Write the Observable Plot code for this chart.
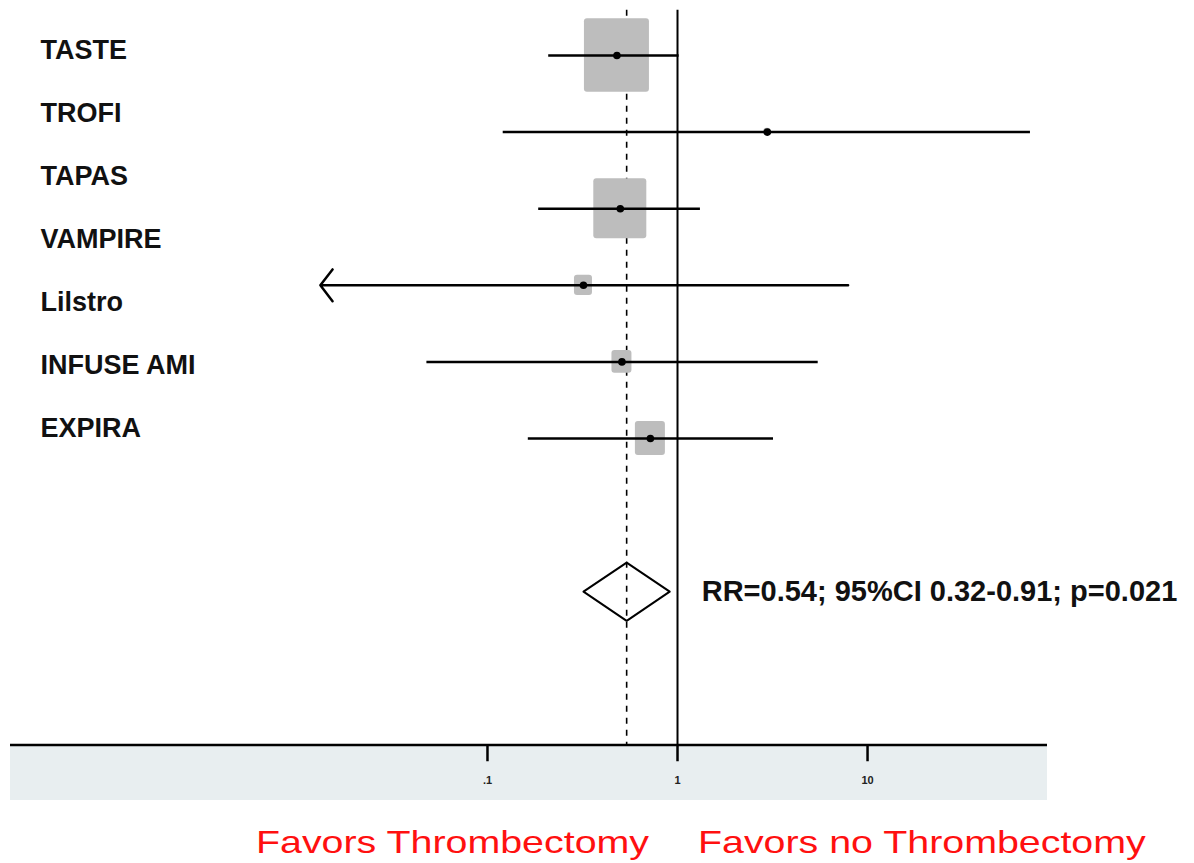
<!DOCTYPE html>
<html>
<head>
<meta charset="utf-8">
<script src="https://cdn.jsdelivr.net/npm/d3@7"></script>
<script src="https://cdn.jsdelivr.net/npm/@observablehq/plot@0.6"></script>
<style>
  html, body { margin: 0; padding: 0; background: #fff; }
  #wrap { position: relative; width: 1194px; height: 863px; font-family: "Liberation Sans", Arial, sans-serif; }
  .favor { position: absolute; top: 826px; font-size: 32px; line-height: 32px; color: #ff1010; white-space: nowrap; transform: scaleX(1.23); transform-origin: left top; }
</style>
</head>
<body>
<div id="wrap"></div>
<script>
// ---- data ----
const labels = ["TASTE", "TROFI", "TAPAS", "VAMPIRE", "Lilstro", "INFUSE AMI", "EXPIRA"];
const rowStudies = ["TASTE", "TROFI", "TAPAS", "Lilstro", "INFUSE AMI", "EXPIRA"];
const rr = [0.48, 2.97, 0.50, 0.32, 0.51, 0.72];
const lower = [0.21, 0.121, 0.186, 0.0132, 0.048, 0.164];
const upper = [1.02, 72, 1.32, 7.9, 5.5, 3.2];
const weight = [65, 7, 53, 18, 20, 30];
const truncatedLow = [false, false, false, true, false, false];
const pooled = {rr: 0.54, lower: 0.32, upper: 0.91};
const pooledText = "RR=0.54; 95%CI 0.32-0.91; p=0.021";
const tickValues = [0.1, 1, 10];
const tickLabels = [".1", "1", "10"];
const favorLeft = "Favors Thrombectomy";
const favorRight = "Favors no Thrombectomy";

// ---- build table ----
const rows = rowStudies.map((s, i) => ({
  study: s, row: i + 1, rr: rr[i], lower: lower[i], upper: upper[i], w: weight[i], trunc: truncatedLow[i]
}));
const pooledRow = rows.length + 2;
const axisRow = rows.length + 4;

const xmin = 10 ** -3.51, xmax = 10 ** 1.947;
const rowPx = 76.6;
const H = 805;
const yTop = 1 - 55 / rowPx, yBot = 1 + (H - 55) / rowPx;
const bandBottom = 1 + 745 / rowPx;
const decadePx = 190;

const diamond = [
  {x: pooled.lower, y: pooledRow},
  {x: pooled.rr, y: pooledRow - 0.38},
  {x: pooled.upper, y: pooledRow},
  {x: pooled.rr, y: pooledRow + 0.38},
  {x: pooled.lower, y: pooledRow}
];

const font = "Liberation Sans, Arial, sans-serif";

const chart = Plot.plot({
  width: 1194,
  height: H,
  marginLeft: 10,
  marginRight: 147,
  marginTop: 0,
  marginBottom: 0,
  style: {fontFamily: font, background: "#fff"},
  x: {type: "log", domain: [xmin, xmax], axis: null},
  y: {domain: [yTop, yBot], reverse: true, axis: null},
  marks: [
    // grey band under the axis
    Plot.rect([0], {x1: xmin, x2: xmax, y1: axisRow, y2: bandBottom, fill: "#e8eef0"}),
    // reference lines
    Plot.ruleX([1], {y1: 0.41, y2: axisRow, stroke: "#000", strokeWidth: 2}),
    Plot.ruleX([pooled.rr], {y1: 0.41, y2: axisRow, stroke: "#000", strokeWidth: 1.6, strokeDasharray: "6,6"}),
    // boxes (weights)
    Plot.rect(rows, {
      x1: d => d.rr / 10 ** (d.w / (2 * decadePx)),
      x2: d => d.rr * 10 ** (d.w / (2 * decadePx)),
      y1: d => d.row - d.w * 1.13 / (2 * rowPx),
      y2: d => d.row + d.w * 1.13 / (2 * rowPx),
      fill: "#bdbdbd", rx: 3
    }),
    // confidence intervals
    Plot.ruleY(rows.filter(d => !d.trunc), {y: "row", x1: "lower", x2: "upper", stroke: "#000", strokeWidth: 2.5}),
    Plot.arrow(rows.filter(d => d.trunc), {
      x1: "upper", x2: "lower", y1: "row", y2: "row",
      stroke: "#000", strokeWidth: 2.5, headLength: 12, headAngle: 105
    }),
    // point estimates
    Plot.dot(rows, {x: "rr", y: "row", r: 3.8, fill: "#000", stroke: null}),
    // pooled diamond
    Plot.line(diamond, {x: "x", y: "y", stroke: "#000", strokeWidth: 2}),
    Plot.text([pooledText], {
      x: pooled.upper, y: pooledRow, text: d => d, dx: 32, textAnchor: "start",
      fontSize: 29, fontWeight: "bold", fill: "#111"
    }),
    // study labels
    Plot.text(labels, {
      x: xmin, y: (d, i) => 0.935 + i * 0.822, text: d => d, dx: 30, textAnchor: "start",
      fontSize: 27, fontWeight: "bold", fill: "#111"
    }),
    // axis
    Plot.ruleY([axisRow], {x1: xmin, x2: xmax, stroke: "#000", strokeWidth: 2.5}),
    Plot.ruleX(tickValues, {y1: axisRow, y2: axisRow + 0.22, stroke: "#000", strokeWidth: 2.5}),
    Plot.text(tickValues, {
      x: d => d, y: axisRow + 0.46, text: (d, i) => tickLabels[i],
      fontSize: 11, fontWeight: "bold", fill: "#222"
    })
  ]
});

const wrap = document.getElementById("wrap");
wrap.appendChild(chart);
const l = document.createElement("div");
l.className = "favor"; l.style.left = "256px"; l.textContent = favorLeft;
const r = document.createElement("div");
r.className = "favor"; r.style.left = "698px"; r.textContent = favorRight;
wrap.appendChild(l); wrap.appendChild(r);
</script>
</body>
</html>
